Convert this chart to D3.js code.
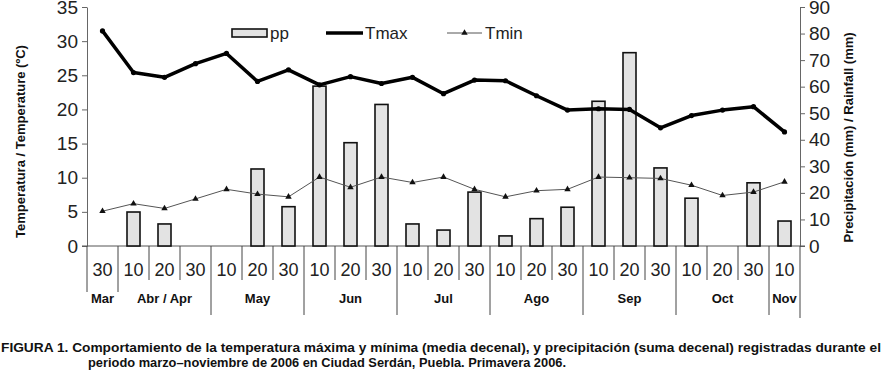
<!DOCTYPE html>
<html>
<head>
<meta charset="utf-8">
<script src="https://cdn.jsdelivr.net/npm/d3@7"></script>
<style>
  html, body { margin: 0; padding: 0; background: #fff; }
  svg { display: block; font-family: 'Liberation Sans', Arial, sans-serif; }
</style>
</head>
<body>
<div id="chart"></div>
<script>
// 数据
const dayLabels = ['30', '10', '20', '30', '10', '20', '30', '10', '20', '30', '10', '20', '30',
  '10', '20', '30', '10', '20', '30', '10', '20', '30', '10'];
const months = [
  { name: 'Mar', start: 0, end: 1 },
  { name: 'Abr / Apr', start: 1, end: 4 },
  { name: 'May', start: 4, end: 7 },
  { name: 'Jun', start: 7, end: 10 },
  { name: 'Jul', start: 10, end: 13 },
  { name: 'Ago', start: 13, end: 16 },
  { name: 'Sep', start: 16, end: 19 },
  { name: 'Oct', start: 19, end: 22 },
  { name: 'Nov', start: 22, end: 23 }
];
const ppValues = [0, 12.8, 8.3, 0, 0, 29.0, 14.8, 60.2, 38.9, 53.3, 8.3, 6.0, 20.3, 3.8, 10.3,
  14.6, 54.5, 72.8, 29.4, 18.0, 0, 23.8, 9.4];
const tmaxValues = [31.5, 25.4, 24.7, 26.7, 28.2, 24.1, 25.8, 23.6, 24.8, 23.8, 24.7, 22.3, 24.3,
  24.2, 22.0, 19.9, 20.1, 20.0, 17.3, 19.1, 19.9, 20.4, 16.7];
const tminValues = [5.1, 6.2, 5.5, 6.9, 8.3, 7.6, 7.2, 10.1, 8.6, 10.1, 9.3, 10.1, 8.3, 7.2, 8.1,
  8.3, 10.1, 10.0, 9.9, 8.9, 7.4, 7.9, 9.4];
const leftTicks = [0, 5, 10, 15, 20, 25, 30, 35];
const rightTicks = [0, 10, 20, 30, 40, 50, 60, 70, 80, 90];

const width = 882;
const height = 372;
const plot = { left: 87, right: 800, top: 7, bottom: 246 };

const svg = d3.select('#chart')
  .append('svg')
  .attr('width', width)
  .attr('height', height);

// 比例尺
const x = d3.scaleBand()
  .domain(d3.range(dayLabels.length))
  .range([plot.left, plot.right]);

const yT = d3.scaleLinear().domain([0, 35]).range([plot.bottom, plot.top]);
const yP = d3.scaleLinear().domain([0, 90]).range([plot.bottom, plot.top]);
const cx = i => x(i) + x.bandwidth() / 2;

// 左轴
const leftAxis = svg.append('g')
  .attr('transform', `translate(${plot.left},0)`)
  .call(d3.axisLeft(yT).tickValues(leftTicks).tickSize(5).tickSizeOuter(0));
leftAxis.select('.domain').attr('stroke', '#666');
leftAxis.selectAll('.tick line').attr('stroke', '#666');
leftAxis.selectAll('.tick text')
  .attr('x', -9)
  .style('font-size', '19px')
  .attr('fill', '#222');

// 右轴
const rightAxis = svg.append('g')
  .attr('transform', `translate(${plot.right},0)`)
  .call(d3.axisRight(yP).tickValues(rightTicks).tickSize(5).tickSizeOuter(0));
rightAxis.select('.domain').attr('stroke', '#666');
rightAxis.selectAll('.tick line').attr('stroke', '#666');
rightAxis.selectAll('.tick text')
  .attr('x', 9)
  .style('font-size', '19px')
  .attr('fill', '#222');

// 轴标题
svg.append('text')
  .attr('transform', `translate(25,${(plot.top + plot.bottom) / 2 + 15}) rotate(-90)`)
  .attr('text-anchor', 'middle')
  .style('font-size', '13px')
  .style('font-weight', 'bold')
  .attr('fill', '#111')
  .text('Temperatura / Temperature (ºC)');

svg.append('text')
  .attr('transform', `translate(853,${(plot.top + plot.bottom) / 2 + 11}) rotate(-90)`)
  .attr('text-anchor', 'middle')
  .style('font-size', '13px')
  .style('font-weight', 'bold')
  .attr('fill', '#111')
  .text('Precipitación (mm) / Rainfall (mm)');

// X轴（表格式）
svg.append('line')
  .attr('x1', plot.left - 5).attr('x2', plot.right + 5)
  .attr('y1', plot.bottom).attr('y2', plot.bottom)
  .attr('stroke', '#555');

const monthStarts = months.map(m => m.start);
const sepLen = i => {
  if (i === 0 || i === 1) return 292;
  if (i === dayLabels.length) return 318;
  if (monthStarts.includes(i)) return 315;
  return 280;
};
svg.selectAll('.sep')
  .data(d3.range(dayLabels.length + 1))
  .enter()
  .append('line')
  .attr('class', 'sep')
  .attr('x1', i => i < dayLabels.length ? x(i) : plot.right)
  .attr('x2', i => i < dayLabels.length ? x(i) : plot.right)
  .attr('y1', plot.bottom)
  .attr('y2', sepLen)
  .attr('stroke', '#444')
  .attr('stroke-width', 1);

svg.selectAll('.day-label')
  .data(dayLabels)
  .enter()
  .append('text')
  .attr('class', 'day-label')
  .attr('x', (d, i) => cx(i))
  .attr('y', 276)
  .attr('text-anchor', 'middle')
  .style('font-size', '18px')
  .attr('fill', '#222')
  .text(d => d);

svg.selectAll('.month-label')
  .data(months)
  .enter()
  .append('text')
  .attr('class', 'month-label')
  .attr('x', d => (x(d.start) + (d.end < dayLabels.length ? x(d.end) : plot.right)) / 2)
  .attr('y', 303)
  .attr('text-anchor', 'middle')
  .style('font-size', '13px')
  .style('font-weight', 'bold')
  .attr('fill', '#111')
  .text(d => d.name);

// 柱状 (pp)
const barW = 13;
svg.selectAll('.bar')
  .data(ppValues.map((v, i) => ({ v, i })).filter(d => d.v > 0))
  .enter()
  .append('rect')
  .attr('class', 'bar')
  .attr('x', d => cx(d.i) - barW / 2)
  .attr('y', d => yP(d.v))
  .attr('width', barW)
  .attr('height', d => plot.bottom - yP(d.v))
  .attr('fill', '#e3e3e3')
  .attr('stroke', '#111')
  .attr('stroke-width', 1.6);

// Tmin 折线
const lineT = d3.line().x((d, i) => cx(i)).y(d => yT(d));
svg.append('path')
  .datum(tminValues)
  .attr('d', lineT)
  .attr('fill', 'none')
  .attr('stroke', '#555')
  .attr('stroke-width', 1);

const tri = d3.symbol().type(d3.symbolTriangle).size(18);
svg.selectAll('.tmin-dot')
  .data(tminValues)
  .enter()
  .append('path')
  .attr('class', 'tmin-dot')
  .attr('d', tri)
  .attr('transform', (d, i) => `translate(${cx(i)},${yT(d)})`)
  .attr('fill', '#111');

// Tmax 折线
svg.append('path')
  .datum(tmaxValues)
  .attr('d', lineT)
  .attr('fill', 'none')
  .attr('stroke', '#000')
  .attr('stroke-width', 3.5)
  .attr('stroke-linejoin', 'round');

svg.selectAll('.tmax-dot')
  .data(tmaxValues)
  .enter()
  .append('circle')
  .attr('class', 'tmax-dot')
  .attr('cx', (d, i) => cx(i))
  .attr('cy', d => yT(d))
  .attr('r', 2.6)
  .attr('fill', '#000');

// 图例
const legend = svg.append('g').style('font-size', '17px').attr('fill', '#222');
legend.append('rect')
  .attr('x', 232).attr('y', 29).attr('width', 35).attr('height', 8)
  .attr('fill', '#e3e3e3').attr('stroke', '#111').attr('stroke-width', 1.6);
legend.append('text').attr('x', 270).attr('y', 39).text('pp');

legend.append('line')
  .attr('x1', 326).attr('x2', 363).attr('y1', 33).attr('y2', 33)
  .attr('stroke', '#000').attr('stroke-width', 3.5);
legend.append('text').attr('x', 365).attr('y', 39).text('Tmax');

legend.append('line')
  .attr('x1', 447).attr('x2', 482).attr('y1', 33).attr('y2', 33)
  .attr('stroke', '#555').attr('stroke-width', 1);
legend.append('path')
  .attr('d', tri)
  .attr('transform', 'translate(464.5,33)')
  .attr('fill', '#111');
legend.append('text').attr('x', 485).attr('y', 39).text('Tmin');

// 图注
svg.append('text')
  .attr('x', 1).attr('y', 352)
  .attr('textLength', 880)
  .attr('lengthAdjust', 'spacingAndGlyphs')
  .style('font-size', '12px')
  .style('font-weight', 'bold')
  .attr('fill', '#111')
  .text('FIGURA 1. Comportamiento de la temperatura máxima y mínima (media decenal), y precipitación (suma decenal) registradas durante el');

svg.append('text')
  .attr('x', 88).attr('y', 367)
  .attr('textLength', 478)
  .attr('lengthAdjust', 'spacingAndGlyphs')
  .style('font-size', '12px')
  .style('font-weight', 'bold')
  .attr('fill', '#111')
  .text('periodo marzo–noviembre de 2006 en Ciudad Serdán, Puebla. Primavera 2006.');
</script>
</body>
</html>
